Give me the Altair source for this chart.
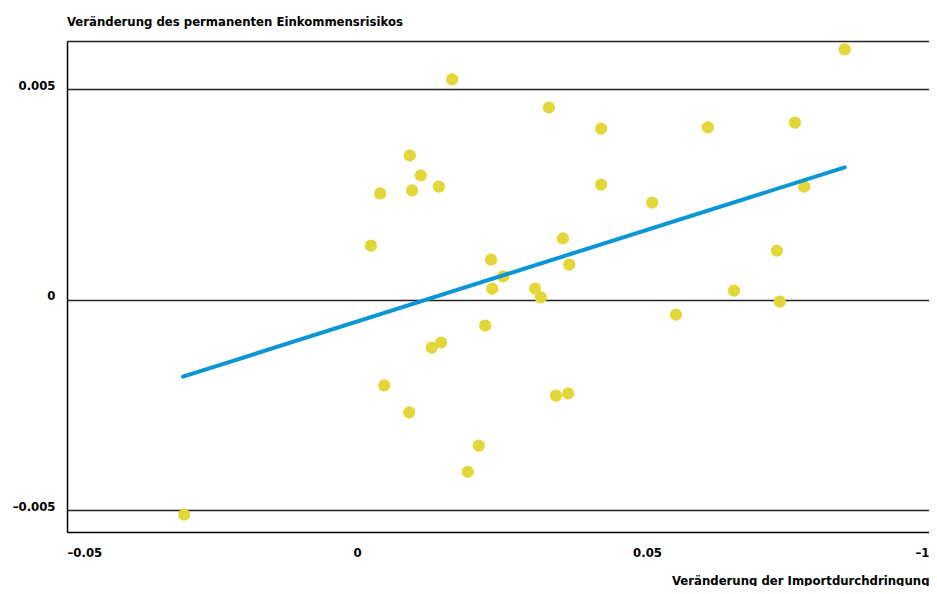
import altair as alt
import pandas as pd

# Scatter points (change in import penetration, change in permanent income risk)
x_vals = [0.0841, 0.0164, 0.0331, 0.0421, 0.0605, 0.0755, 0.0091, 0.0110, 0.0040,
          0.0095, 0.0141, 0.0421, 0.0509, 0.0771, 0.0024, 0.0355, 0.0231, 0.0252,
          0.0233, 0.0366, 0.0307, 0.0317, 0.0724, 0.0650, 0.0729, 0.0550, 0.0221,
          0.0129, 0.0145, 0.0047, 0.0090, 0.0343, 0.0364, 0.0210, 0.0191, -0.0298]
y_vals = [0.00594, 0.00523, 0.00456, 0.00406, 0.00409, 0.00420, 0.00342, 0.00295, 0.00252,
          0.00259, 0.00268, 0.00273, 0.00230, 0.00268, 0.00128, 0.00145, 0.00095, 0.00055,
          0.00026, 0.00083, 0.00026, 0.00005, 0.00116, 0.00021, -0.00005, -0.00036, -0.00062,
          -0.00114, -0.00102, -0.00204, -0.00268, -0.00228, -0.00223, -0.00347, -0.00409, -0.00511]

# Fitted line end points
fit_x = [-0.0300, 0.0841]
fit_y = [-0.00183, 0.00314]

x_ticks = [-0.05, 0, 0.05, 0.1]
x_tick_labels = ["–0.05", "0", "0.05", "–1"]
y_ticks = [-0.005, 0, 0.005]
y_tick_labels = ["–0.005", "0", "0.005"]

x_domain = [-0.05, 0.1]
y_domain = [-0.00552, 0.00614]

FONT = "DejaVu Sans Condensed, Liberation Sans Narrow, sans-serif"
DOT = "#e2d638"
LINE = "#0a95d5"

pts = pd.DataFrame({"x": x_vals, "y": y_vals})
fit = pd.DataFrame({"x": fit_x, "y": fit_y})


def label_expr(ticks, labels):
    parts = []
    for t, l in zip(ticks, labels):
        parts.append(f"abs(datum.value - ({t})) < 1e-9 ? '{l}'")
    return " : ".join(parts) + " : ''"


# the plot runs on past the right edge of the page, as in the original
x_scale = alt.Scale(domain=x_domain, nice=False, zero=False, range=[0, 870])
y_scale = alt.Scale(domain=y_domain, nice=False, zero=False)

y_axis = alt.Axis(
    values=y_ticks, labelExpr=label_expr(y_ticks, y_tick_labels), title=None,
    ticks=False, grid=True, gridColor="#222", gridWidth=1.5, domain=True,
    domainColor="#000", domainWidth=1.5, labelFont=FONT, labelFontSize=13,
    labelFontWeight="bold", labelColor="#000", labelPadding=12,
    labelBaseline="alphabetic",
)

x_axis_bottom = alt.Axis(
    orient="bottom", values=x_ticks, labelExpr=label_expr(x_ticks, x_tick_labels),
    ticks=False, grid=False, domain=True, domainColor="#000", domainWidth=1.5,
    labelFont=FONT, labelFontSize=13, labelFontWeight="bold", labelColor="#000",
    labelPadding=14, labelFlush=True,
    labelOffset={"condition": {"test": "datum.value > 0.09", "value": -8}, "value": 0},
    title="Veränderung der Importdurchdringung", titleFont=FONT, titleFontSize=13,
    titleFontWeight="bold", titleColor="#000", titleAnchor="end", titleAlign="right",
    titleBaseline="alphabetic", titleX=862, titleY=52,
)

x_axis_top = alt.Axis(
    orient="top", labels=False, ticks=False, grid=False, domain=True,
    domainColor="#222", domainWidth=1.5, title=None,
)

points = alt.Chart(pts).mark_circle(size=150, color=DOT, opacity=1).encode(
    x=alt.X("x:Q", scale=x_scale, axis=x_axis_bottom),
    y=alt.Y("y:Q", scale=y_scale, axis=y_axis),
)

line = alt.Chart(fit).mark_line(color=LINE, strokeWidth=4, strokeCap="round").encode(
    x=alt.X("x:Q", scale=x_scale, axis=x_axis_top),
    y=alt.Y("y:Q", scale=y_scale, axis=y_axis),
)

chart = alt.layer(points, line).resolve_axis(x="independent").properties(
    width=862,
    height=491,
    autosize=alt.AutoSizeParams(type="none"),
    padding={"left": 59, "top": 33, "right": 0, "bottom": 54},
    title=alt.Title(
        "Veränderung des permanenten Einkommensrisikos", anchor="start", frame="group",
        font=FONT, fontSize=13, fontWeight="bold", color="#000", offset=2,
        baseline="alphabetic",
    ),
).configure_view(stroke=None)

chart.save("out.html", embed_options={"renderer": "svg", "actions": False})
